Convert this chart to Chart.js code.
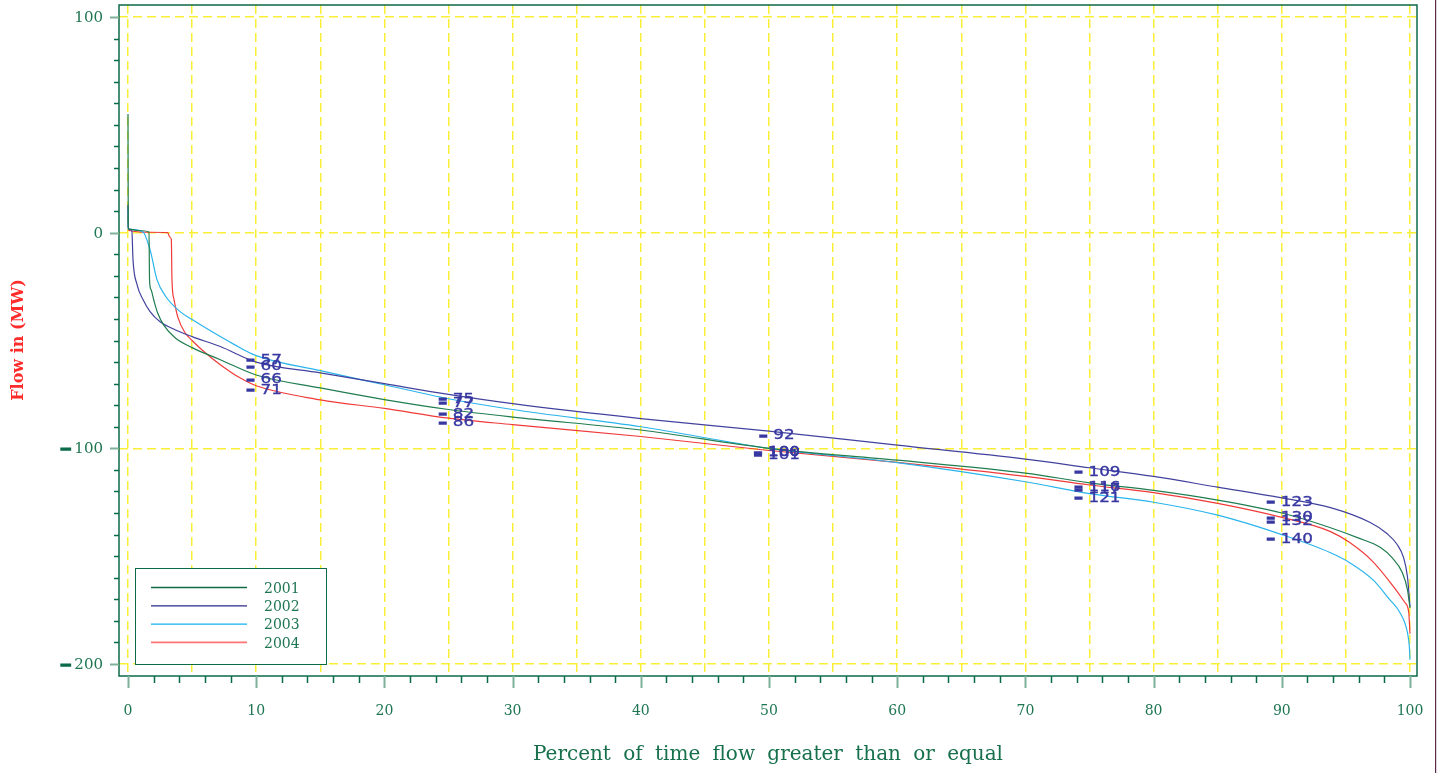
<!DOCTYPE html>
<html>
<head>
<meta charset="utf-8">
<script src="https://cdn.jsdelivr.net/npm/chart.js@4.4.1/dist/chart.umd.min.js"></script>
<style>
  html, body { margin: 0; padding: 0; background: #fff; overflow: hidden; }
  canvas { display: block; }
</style>
</head>
<body>
<canvas id="flowChart" width="1439" height="773"></canvas>
<script>
// Flow-duration curves: percent of time the flow is greater than or equal to a value (MW)
const years = ['2001', '2002', '2003', '2004'];

const pct2001 = [0, 0.02, 0.1, 0.8, 1.64, 1.68, 1.8, 2.0, 2.3, 2.8, 3.67, 5, 7.2, 10, 15, 20, 25, 30, 40, 50, 60, 70, 75, 80, 85, 90, 93.8, 95.9, 97.7, 98.6, 99.4, 99.8, 100];
const flow2001 = [55, 2.5, 1.6, 1, 0.3, -22, -26.5, -31, -37, -43, -48.7, -53.3, -58.9, -66, -72, -77.4, -82, -85.5, -91.5, -100, -105.5, -111.5, -116, -119.5, -124, -130, -136.8, -141.4, -146, -150.7, -157.6, -165.5, -174];

const pct2002 = [0, 0.02, 0.1, 0.3, 0.39, 0.7, 1.17, 1.72, 2.5, 3.67, 5, 7.2, 10, 15, 20, 25, 30, 40, 50, 60, 70, 75, 80, 85, 90, 93.8, 96.9, 98.2, 99, 99.5, 99.8, 100];
const flow2002 = [13, 2, 1.5, 1, -12.5, -24, -31, -36.6, -41.3, -45, -48.2, -52.8, -60, -65, -70, -75, -79.3, -86.2, -92, -98.5, -105, -109, -113, -118, -123, -127.5, -134.4, -139.5, -144.6, -150.7, -159.5, -173.5];

const pct2003 = [0, 0.02, 0.1, 1.17, 1.72, 2.26, 2.96, 4.06, 5, 6.4, 8.3, 10, 15, 20, 25, 30, 40, 50, 60, 70, 75, 80, 85, 90, 93.8, 95.3, 97.1, 98.4, 99.2, 99.8, 99.95, 100];
const flow2003 = [12, 2, 1.5, 0.3, -7.9, -21.8, -29.7, -36.6, -40.3, -45.4, -51.9, -57, -64, -70.5, -77, -82, -90, -100, -106.6, -115.5, -121, -125, -131, -140, -148.4, -153, -160.9, -170, -176, -185.4, -192, -198];

const pct2004 = [0, 0.1, 1.6, 3.1, 3.25, 3.38, 3.43, 3.59, 3.9, 4.45, 5, 6, 7.2, 8.7, 10, 15, 20, 25, 30, 40, 50, 60, 70, 75, 80, 85, 90, 93.8, 95.3, 97.1, 98.7, 99.6, 99.9, 100];
const flow2004 = [1.5, 1, 0.2, 0, -2, -3.2, -21.8, -31, -39.4, -46.4, -50, -55.6, -61.2, -67.2, -71, -77.5, -81.5, -86, -89, -94.5, -101, -106.5, -113, -117, -120.5, -125.5, -132, -138.6, -143.7, -152.5, -164, -171.5, -176, -186];

// Percent-of-time points that get a value label on every curve
const labelPcts = [10, 25, 50, 75, 90];

// Axis tick values
const xTickValues = [0, 10, 20, 30, 40, 50, 60, 70, 80, 90, 100];
const yTickValues = [100, 0, -100, -200];

const pctSeries = [pct2001, pct2002, pct2003, pct2004];
const flowSeries = [flow2001, flow2002, flow2003, flow2004];

const lineColors = ['#1f7d50', '#42429e', '#2ab4ec', '#f03a3a'];
const legendColors = ['#0e6b45', '#2a2a8c', '#12b3f0', '#ff7474'];
const frameColor = '#0b6a47';
const majorTickColor = '#7fb09c';
const textGreen = '#1d7552';
const labelBlue = '#3838a2';
const gridYellow = '#f8ef36';

const datasets = years.map((yr, i) => ({
  label: yr,
  data: pctSeries[i].map((p, j) => ({ x: p, y: flowSeries[i][j] })),
  borderColor: lineColors[i],
  backgroundColor: lineColors[i],
  borderWidth: 1.2,
  showLine: true,
  pointRadius: 0,
  cubicInterpolationMode: 'monotone'
}));

// bold minus sign, drawn as text and stretched so its ink spans `len` pixels
function drawDashText(ctx, xLeft, yMid, len, color, weight) {
  ctx.save();
  ctx.fillStyle = color;
  ctx.strokeStyle = color;
  ctx.lineWidth = weight;
  ctx.font = 'bold 14px "DejaVu Sans"';
  ctx.textAlign = 'left';
  ctx.textBaseline = 'alphabetic';
  const m = ctx.measureText('\u2013');
  const abl = m.actualBoundingBoxLeft, abr = m.actualBoundingBoxRight;
  const sx = len / (abl + abr);
  const yOff = (m.actualBoundingBoxAscent - m.actualBoundingBoxDescent) / 2;
  ctx.translate(xLeft, yMid + yOff);
  ctx.scale(sx, 1);
  ctx.fillText('\u2013', abl, 0);
  ctx.strokeText('\u2013', abl, 0);
  ctx.restore();
}

const decorations = {
  id: 'decorations',
  afterDraw(chart) {
    const { ctx, chartArea: a, scales } = chart;
    const xs = scales.x, ys = scales.y;
    ctx.save();

    // plot frame
    ctx.strokeStyle = frameColor;
    ctx.lineWidth = 1.5;
    ctx.strokeRect(a.left, a.top, a.right - a.left, a.bottom - a.top);

    // y axis tick marks: minor every 10, major every 100
    for (let v = -200; v <= 100; v += 10) {
      const py = Math.round(ys.getPixelForValue(v)) + 0.5;
      const major = v % 100 === 0;
      ctx.strokeStyle = major ? majorTickColor : frameColor;
      ctx.lineWidth = major ? 2 : 1.5;
      ctx.beginPath();
      ctx.moveTo(a.left - (major ? 9 : 5), py);
      ctx.lineTo(a.left, py);
      ctx.stroke();
    }

    // x axis tick marks: minor every 2, major every 10
    for (let v = 0; v <= 100; v += 2) {
      const px = Math.round(xs.getPixelForValue(v)) + 0.5;
      const major = v % 10 === 0;
      ctx.strokeStyle = major ? majorTickColor : frameColor;
      ctx.lineWidth = major ? 2 : 1.5;
      ctx.beginPath();
      ctx.moveTo(px, a.bottom);
      ctx.lineTo(px, a.bottom + (major ? 12 : 7));
      ctx.stroke();
    }

    // y tick labels
    yTickValues.forEach(v => {
      const py = ys.getPixelForValue(v);
      const digits = String(Math.abs(v));
      ctx.fillStyle = textGreen;
      ctx.font = '15px "DejaVu Serif"';
      ctx.textAlign = 'right';
      ctx.textBaseline = 'middle';
      ctx.fillText(digits, 103, py + 1);
      if (v < 0) {
        const w = ctx.measureText(digits).width;
        drawDashText(ctx, 103 - w - 14, py + 1, 11, '#0b6a47', 1.4);
      }
    });

    // x tick labels
    ctx.fillStyle = textGreen;
    ctx.font = '14px "DejaVu Serif"';
    ctx.textAlign = 'center';
    ctx.textBaseline = 'middle';
    xTickValues.forEach(v => {
      ctx.fillText(String(v), xs.getPixelForValue(v), 711);
    });

    // x axis title, words spread over a fixed span
    const title = 'Percent of time flow greater than or equal';
    const words = title.split(' ');
    ctx.font = '20px "DejaVu Serif"';
    ctx.fillStyle = '#17704c';
    ctx.textAlign = 'left';
    ctx.textBaseline = 'middle';
    const span = 470;
    const wordsW = words.reduce((s, w) => s + ctx.measureText(w).width, 0);
    const gap = (span - wordsW) / (words.length - 1);
    let tx = 768 - span / 2;
    words.forEach(w => {
      ctx.fillText(w, tx, 755);
      tx += ctx.measureText(w).width + gap;
    });

    // y axis title
    ctx.save();
    ctx.translate(19, 340);
    ctx.rotate(-Math.PI / 2);
    ctx.font = 'bold 16px "DejaVu Serif"';
    ctx.fillStyle = '#ff2c2c';
    ctx.textAlign = 'center';
    ctx.textBaseline = 'middle';
    ctx.fillText('Flow in (MW)', 0, 0);
    ctx.restore();

    // legend box inside the plot
    const lx = 135, ly = 568, lw = 191, lh = 96;
    ctx.fillStyle = '#ffffff';
    ctx.fillRect(lx, ly, lw, lh);
    ctx.strokeStyle = frameColor;
    ctx.lineWidth = 1;
    ctx.strokeRect(lx + 0.5, ly + 0.5, lw, lh);
    years.forEach((yr, i) => {
      const yy = 587.5 + i * 18.3;
      ctx.strokeStyle = legendColors[i];
      ctx.lineWidth = i === 3 ? 1.8 : 1.3;
      ctx.beginPath();
      ctx.moveTo(151, yy);
      ctx.lineTo(247, yy);
      ctx.stroke();
      ctx.fillStyle = textGreen;
      ctx.font = '14px "DejaVu Serif"';
      ctx.textAlign = 'left';
      ctx.textBaseline = 'middle';
      ctx.fillText(yr, 264, yy + 1.5);
    });

    // value labels on each curve: minus sign then the magnitude, slightly widened
    const stretch = 1.2;
    pctSeries.forEach((pcts, i) => {
      labelPcts.forEach(p => {
        const j = pcts.indexOf(p);
        if (j < 0) return;
        const val = flowSeries[i][j];
        const px = xs.getPixelForValue(p);
        const py = ys.getPixelForValue(val) + 4.5;
        const digits = String(Math.abs(Math.round(val)));
        ctx.font = '14px "DejaVu Sans"';
        const dw = ctx.measureText(digits).width * stretch;
        const dashLen = 8, gapLen = 6;
        const total = dashLen + gapLen + dw;
        const left = px + 8 - total / 2;
        if (val < 0) drawDashText(ctx, left, py, dashLen, labelBlue, 1.6);
        ctx.save();
        ctx.translate(left + dashLen + gapLen, py);
        ctx.scale(stretch, 1);
        ctx.fillStyle = labelBlue;
        ctx.strokeStyle = labelBlue;
        ctx.lineWidth = 0.35;
        ctx.font = '14px "DejaVu Sans"';
        ctx.textAlign = 'left';
        ctx.textBaseline = 'middle';
        ctx.fillText(digits, 0, 0);
        ctx.strokeText(digits, 0, 0);
        ctx.restore();
      });
    });

    // outer right edge rule
    ctx.fillStyle = '#5a2a4a';
    ctx.fillRect(1435, 0, 1.2, 773);

    ctx.restore();
  }
};

new Chart(document.getElementById('flowChart'), {
  type: 'scatter',
  data: { datasets },
  options: {
    responsive: false,
    animation: false,
    devicePixelRatio: 1,
    layout: { padding: { left: 0, top: 5, right: 22, bottom: 0 } },
    plugins: {
      legend: { display: false },
      tooltip: { enabled: false },
      title: { display: false }
    },
    scales: {
      x: {
        type: 'linear',
        min: -0.702,
        max: 100.546,
        afterBuildTicks: s => { s.ticks = [0, 5, 10, 15, 20, 25, 30, 35, 40, 45, 50, 55, 60, 65, 70, 75, 80, 85, 90, 95, 100].map(v => ({ value: v })); },
        afterFit: s => { s.height = 97; },
        ticks: { display: false },
        grid: { color: gridYellow, lineWidth: 1.5, drawTicks: false },
        border: { display: false, dash: [9, 5] }
      },
      y: {
        type: 'linear',
        min: -205.56,
        max: 105.56,
        afterBuildTicks: s => { s.ticks = yTickValues.map(v => ({ value: v })); },
        afterFit: s => { s.width = 119; },
        ticks: { display: false },
        grid: { color: gridYellow, lineWidth: 1.5, drawTicks: false },
        border: { display: false, dash: [9, 5] }
      }
    }
  },
  plugins: [decorations]
});
</script>
</body>
</html>
